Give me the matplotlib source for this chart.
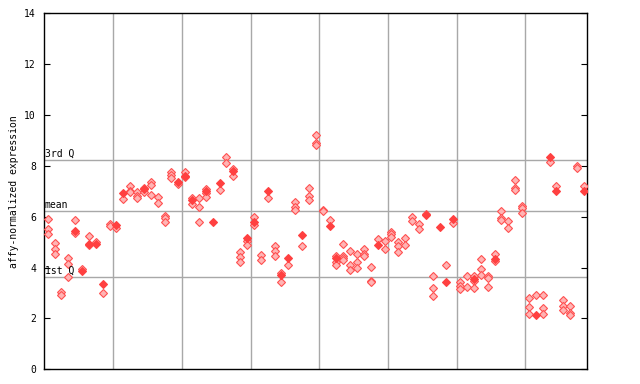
import matplotlib
matplotlib.use("Agg")
import matplotlib.pyplot as plt

# expression values per sample column (open = replicate, solid = highlighted)
open_pts = [
    [5.92, 5.51, 5.33], [4.95, 4.75, 4.54], [3.03, 2.93], [4.37, 4.15, 3.64],
    [5.88, 5.36], [3.94], [5.24, 4.87], [5.0], [2.99], [5.71, 5.63],
    [5.55], [6.69], [7.19, 7.02, 6.98], [6.99, 6.80, 6.72], [7.14, 6.96],
    [7.36, 7.25, 6.85], [6.77, 6.54], [6.04, 5.93, 5.80], [7.74, 7.66, 7.51], [7.27],
    [7.76, 7.55], [6.73, 6.50], [6.73, 6.38, 5.79], [7.10, 6.93, 6.77], [],
    [7.05], [8.36, 8.11], [7.89, 7.60], [4.62, 4.42, 4.21], [5.03, 4.87],
    [5.99, 5.67], [4.49, 4.29], [6.73], [4.84, 4.65, 4.45], [3.77, 3.43],
    [4.12], [6.59, 6.39, 6.26], [4.84], [7.13, 6.81, 6.65], [9.22, 8.90, 8.84],
    [6.26, 6.21], [5.88], [4.44, 4.23, 4.12], [4.92, 4.46, 4.37, 4.28], [4.65, 4.11, 3.91],
    [4.53, 4.21, 3.98], [4.74, 4.52, 4.45], [4.03, 3.48, 3.43], [5.13], [5.04, 4.73],
    [5.39, 5.32, 5.21], [5.01, 4.84, 4.61], [5.16, 4.88], [5.99, 5.83], [5.70, 5.51],
    [6.12], [3.67, 3.19, 2.89], [], [4.10], [5.76],
    [3.45, 3.27, 3.17], [3.66, 3.23], [3.65, 3.48, 3.19], [4.33, 3.94, 3.71], [3.65, 3.58, 3.23],
    [4.53, 4.27], [6.23, 5.95, 5.88], [5.84, 5.55], [7.44, 7.14, 7.07], [6.42, 6.35, 6.14],
    [2.80, 2.44, 2.17], [2.91], [2.91, 2.40, 2.17], [8.15], [7.21],
    [2.72, 2.48, 2.32], [2.48, 2.20, 2.14], [8.01, 7.93], [7.21],
]
solid_pts = [
    [], [], [], [], [5.45], [3.87], [4.92], [4.92], [3.37], [],
    [5.68], [6.93], [], [], [7.10], [], [], [], [], [7.38],
    [7.62], [6.65], [], [7.02], [5.79], [7.31], [], [7.81], [], [5.16],
    [5.79], [], [7.03], [], [3.70], [4.36], [], [5.30], [], [],
    [], [5.64], [4.36], [], [], [], [], [], [4.90], [],
    [], [], [], [], [], [6.05], [], [5.60], [3.45], [5.91],
    [], [], [3.56], [], [], [4.33], [], [], [], [],
    [], [2.15], [], [8.33], [7.02], [], [], [], [7.02],
]
group_breaks = [10, 20, 30, 40, 50, 60, 70]
q1, mean, q3 = 3.62, 6.22, 8.23

fig = plt.figure(figsize=(6.4, 3.84), dpi=100)
ax = fig.add_axes([0.0692, 0.0383, 0.8485, 0.9271])

for b in group_breaks:
    ax.axvline(b, color="#a8a8a8", lw=1.0, zorder=1)
for v in (q1, mean, q3):
    ax.axhline(v, color="#a8a8a8", lw=1.0, zorder=1)

ox, oy, sx, sy = [], [], [], []
for i, vals in enumerate(open_pts):
    ox += [i + 0.5] * len(vals)
    oy += vals
for i, vals in enumerate(solid_pts):
    sx += [i + 0.5] * len(vals)
    sy += vals

ax.plot(ox, oy, "D", ms=3.7, mfc="#ffb4b4", mec="#ff5050", mew=0.8,
        ls="none", zorder=3)
ax.plot(sx, sy, "D", ms=3.7, mfc="#ff4040", mec="#ff4040", mew=0.8,
        ls="none", zorder=4)

mono = "DejaVu Sans Mono"
for v, lab in ((q3, "3rd Q"), (mean, "mean"), (q1, "1st Q")):
    ax.text(0.05, v + 0.05, lab, fontsize=7, family=mono, va="bottom", ha="left")

ax.set_xlim(0, 79)
ax.set_ylim(0, 14)
ax.set_xticks([])
ax.set_yticks(range(0, 15, 2))
ax.tick_params(axis="y", direction="in", length=4, labelsize=7, right=True,
               pad=6)
for t in ax.get_yticklabels():
    t.set_family(mono)
ax.set_ylabel("affy-normalized expression", fontsize=7, family=mono, labelpad=4)
for s in ax.spines.values():
    s.set_linewidth(1.0)

fig.savefig("out.png", dpi=100)
